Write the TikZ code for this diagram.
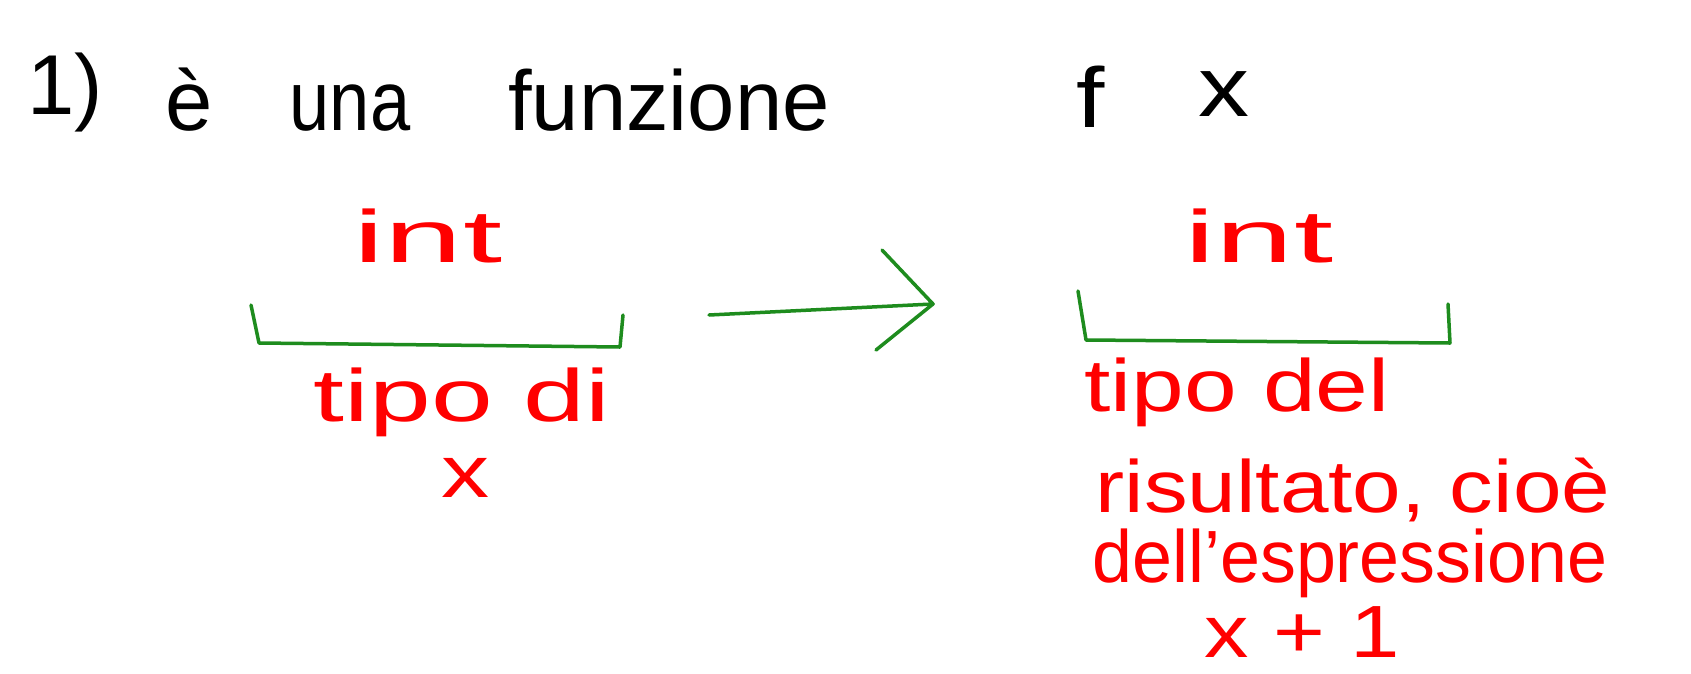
\documentclass[tikz,border=0pt]{standalone}
\usepackage{fontspec}
\setmainfont{Liberation Sans}
\definecolor{inkred}{RGB}{255,0,0}
\definecolor{inkgreen}{RGB}{30,140,30}
\begin{document}
\begin{tikzpicture}[x=1pt,y=-1pt,
  blk/.style={text=black,inner sep=0pt,font=\fontsize{85}{95}\selectfont},
  rd/.style={text=inkred,inner sep=0pt,font=\fontsize{74}{84}\selectfont},
  brk/.style={draw=inkgreen,line width=3.5pt,line join=round,line cap=round},
  arr/.style={draw=inkgreen,line width=3.5pt,line cap=round,line join=round}]
\fill[white] (0,0) rectangle (1691,673);
\useasboundingbox (0,0) rectangle (1691,673);
% title
\node[blk] (n1) at (65,92) {1)};
\node[blk] (ne) at (189,100) {è};
\node[blk,xscale=0.85] (nuna) at (350,108) {una};
\node[blk] (nfun) at (669,100) {funzione};
\node[blk,xscale=1.2] (nf) at (1091,97) {f};
\node[blk,xscale=1.2] (nx) at (1224,94) {x};
% left
\node[rd,xscale=1.9] (int1) at (428,236) {int};
\coordinate (b1a) at (251,305);
\coordinate (b1b) at (259,343);
\coordinate (b1c) at (620,347);
\coordinate (b1d) at (623,315);
\draw[brk] (b1a) -- (b1b) -- (b1c) -- (b1d);
\node[rd,xscale=1.5] (tipo1) at (462,402) {tipo di};
\node[rd,xscale=1.3] (x1) at (466,478) {x};
% arrow
\coordinate (as) at (709,315);
\coordinate (ae) at (933,304);
\coordinate (ah1) at (882,250);
\coordinate (ah2) at (876,350);
\draw[arr] (as) -- (ae);
\draw[arr] (ah1) -- (ae) -- (ah2);
% right
\node[rd,xscale=1.9] (int2) at (1259,236) {int};
\coordinate (b2a) at (1078,291);
\coordinate (b2b) at (1086,340);
\coordinate (b2c) at (1450,343);
\coordinate (b2d) at (1448,304);
\draw[brk] (b2a) -- (b2b) -- (b2c) -- (b2d);
\node[rd,xscale=1.28] (tipo2) at (1237,392) {tipo del};
\node[rd,xscale=1.18] (ris) at (1353,490) {risultato, cioè};
\node[rd,xscale=0.97] (dell) at (1350,563) {dell'espressione};
\node[rd,xscale=1.2] (xp1) at (1302,632) {x + 1};
\end{tikzpicture}
\end{document}
